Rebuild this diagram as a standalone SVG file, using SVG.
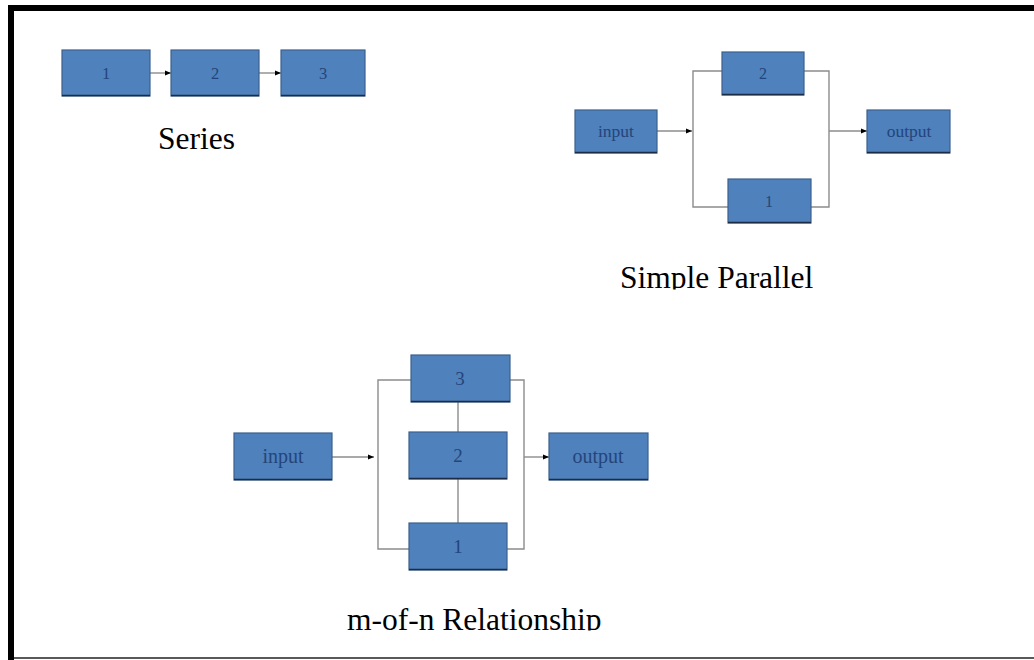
<svg xmlns="http://www.w3.org/2000/svg" width="1034" height="660" viewBox="0 0 1034 660">
  <style>
    .blk { fill: #4f81bd; stroke: #3d5f8c; stroke-width: 1.2; }
    .base { stroke: #1c2c44; stroke-width: 1.6; }
    .lbl { font-family: "Liberation Serif", "DejaVu Serif", serif; fill: #24457a; text-anchor: middle; dominant-baseline: central; }
    .wire { fill: none; stroke: #8c8c8c; stroke-width: 1.4; }
    .arr { fill: none; stroke: #8c8c8c; stroke-width: 1.4; marker-end: url(#head); }
    .cap { font-family: "Liberation Serif", "Times New Roman", serif; font-size: 31.5px; fill: #000; }
  </style>
  <defs>
    <marker id="head" viewBox="0 0 10 10" refX="10" refY="5" markerWidth="6" markerHeight="6" markerUnits="userSpaceOnUse" orient="auto">
      <path d="M0,1 L10,5 L0,9 z" fill="#000"/>
    </marker>
    <clipPath id="clipSP"><rect x="560" y="250" width="300" height="39.5"/></clipPath>
    <clipPath id="clipMN"><rect x="300" y="590" width="360" height="40.5"/></clipPath>
  </defs>

  <rect x="0" y="0" width="1034" height="660" fill="#fff"/>

  <!-- frame -->
  <g id="frame">
    <rect x="8" y="5" width="1030" height="6" fill="#000"/>
    <rect x="8" y="5" width="6" height="660" fill="#000"/>
    <line x1="14" y1="658" x2="1034" y2="658" stroke="#222" stroke-width="1.5"/>
  </g>

  <!-- connectors -->
  <g id="connectors">
    <!-- series -->
    <line class="arr" x1="150" y1="73" x2="171" y2="73"/>
    <line class="arr" x1="259" y1="73" x2="281" y2="73"/>
    <!-- simple parallel -->
    <line class="arr" x1="657" y1="131" x2="692" y2="131"/>
    <polyline class="wire" points="722,71 693,71 693,207 728,207"/>
    <polyline class="wire" points="804,71 829,71 829,207 811,207"/>
    <line class="arr" x1="829" y1="131" x2="867" y2="131"/>
    <!-- m-of-n -->
    <line class="arr" x1="332" y1="457" x2="374" y2="457"/>
    <polyline class="wire" points="411,380 378,380 378,549 409,549"/>
    <polyline class="wire" points="510,380 524,380 524,549 507,549"/>
    <line class="wire" x1="458" y1="402" x2="458" y2="432"/>
    <line class="wire" x1="458" y1="479" x2="458" y2="523"/>
    <line class="arr" x1="524" y1="457" x2="549" y2="457"/>
  </g>

  <!-- series blocks -->
  <g id="s1"><rect class="blk" x="62" y="50" width="88" height="46"/><line class="base" x1="62" y1="95.5" x2="150" y2="95.5"/><text class="lbl" x="106" y="73" font-size="16.5">1</text></g>
  <g id="s2"><rect class="blk" x="171" y="50" width="88" height="46"/><line class="base" x1="171" y1="95.5" x2="259" y2="95.5"/><text class="lbl" x="215" y="73" font-size="16.5">2</text></g>
  <g id="s3"><rect class="blk" x="281" y="50" width="84" height="46"/><line class="base" x1="281" y1="95.5" x2="365" y2="95.5"/><text class="lbl" x="323" y="73" font-size="16.5">3</text></g>
  <text class="cap" x="158" y="149">Series</text>

  <!-- simple parallel blocks -->
  <g id="p-in"><rect class="blk" x="575" y="110" width="82" height="43"/><line class="base" x1="575" y1="152.5" x2="657" y2="152.5"/><text class="lbl" x="616" y="131" font-size="17.5">input</text></g>
  <g id="p2"><rect class="blk" x="722" y="52" width="82" height="43"/><line class="base" x1="722" y1="94.5" x2="804" y2="94.5"/><text class="lbl" x="763" y="73" font-size="16">2</text></g>
  <g id="p1"><rect class="blk" x="728" y="179" width="83" height="44"/><line class="base" x1="728" y1="222.5" x2="811" y2="222.5"/><text class="lbl" x="769" y="201" font-size="16">1</text></g>
  <g id="p-out"><rect class="blk" x="867" y="110" width="83" height="43"/><line class="base" x1="867" y1="152.5" x2="950" y2="152.5"/><text class="lbl" x="909" y="131" font-size="17.5">output</text></g>
  <text class="cap" x="620" y="288" clip-path="url(#clipSP)">Simple Parallel</text>

  <!-- m-of-n blocks -->
  <g id="m-in"><rect class="blk" x="234" y="433" width="98" height="47"/><line class="base" x1="234" y1="479.5" x2="332" y2="479.5"/><text class="lbl" x="283" y="456" font-size="20">input</text></g>
  <g id="m3"><rect class="blk" x="411" y="355" width="99" height="47"/><line class="base" x1="411" y1="401.5" x2="510" y2="401.5"/><text class="lbl" x="460" y="378" font-size="19">3</text></g>
  <g id="m2"><rect class="blk" x="409" y="432" width="98" height="47"/><line class="base" x1="409" y1="478.5" x2="507" y2="478.5"/><text class="lbl" x="458" y="455" font-size="19">2</text></g>
  <g id="m1"><rect class="blk" x="409" y="523" width="98" height="47"/><line class="base" x1="409" y1="569.5" x2="507" y2="569.5"/><text class="lbl" x="458" y="546" font-size="19">1</text></g>
  <g id="m-out"><rect class="blk" x="549" y="433" width="99" height="47"/><line class="base" x1="549" y1="479.5" x2="648" y2="479.5"/><text class="lbl" x="598" y="456" font-size="20">output</text></g>
  <text class="cap" x="347" y="630" clip-path="url(#clipMN)">m-of-n Relationship</text>
</svg>
